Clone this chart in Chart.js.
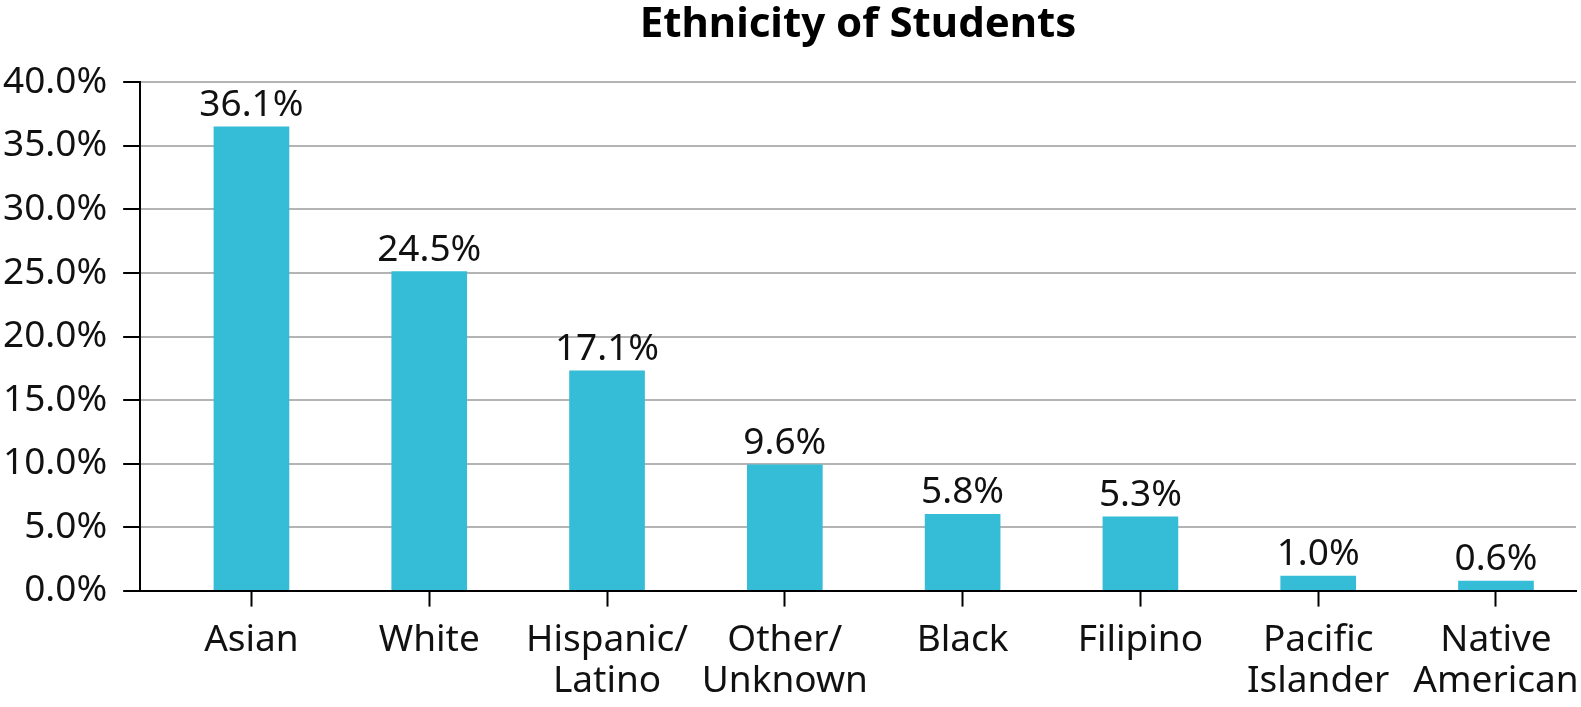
<!DOCTYPE html>
<html>
<head>
<meta charset="utf-8">
<script src="https://cdn.jsdelivr.net/npm/chart.js@4.4.0/dist/chart.umd.min.js"></script>
<style>
html,body{margin:0;padding:0;background:#fff;}
#wrap{width:1581px;height:707px;}
</style>
</head>
<body>
<div id="wrap"><canvas id="c" width="1581" height="707"></canvas></div>
<script>
const categories = [["Asian"], ["White"], ["Hispanic/", "Latino"], ["Other/", "Unknown"], ["Black"], ["Filipino"], ["Pacific", "Islander"], ["Native", "American"]];
// bar heights as drawn in the picture (percent)
const barValues = [36.5, 25.1, 17.3, 9.9, 6.0, 5.8, 1.15, 0.75];
// value labels printed above the bars
const valueLabels = ["36.1%", "24.5%", "17.1%", "9.6%", "5.8%", "5.3%", "1.0%", "0.6%"];
const yTicks = [0, 5, 10, 15, 20, 25, 30, 35, 40];

const FONT = "'Noto Sans', 'Open Sans', sans-serif";

const labelPlugin = {
  id: 'valueLabels',
  afterDatasetsDraw(chart) {
    const ctx = chart.ctx;
    const meta = chart.getDatasetMeta(0);
    ctx.save();
    ctx.font = "37px " + FONT;
    ctx.fillStyle = "#111";
    ctx.textAlign = "center";
    ctx.textBaseline = "alphabetic";
    meta.data.forEach((bar, i) => {
      ctx.fillText(valueLabels[i], bar.x, bar.y - 11);
    });
    ctx.restore();
  }
};

new Chart(document.getElementById('c'), {
  type: 'bar',
  data: {
    datasets: [{
      data: barValues.map((v, i) => ({x: i, y: v})),
      backgroundColor: '#35BCD7',
      borderWidth: 0,
      barThickness: 75
    }]
  },
  options: {
    responsive: false,
    animation: false,
    devicePixelRatio: 1,
    layout: { padding: { left: -13, right: 5, top: 0, bottom: -9 } },
    plugins: {
      legend: { display: false },
      tooltip: { enabled: false },
      title: {
        display: true,
        text: 'Ethnicity of Students',
        fullSize: false,
        color: '#000',
        font: { family: FONT, size: 42, weight: 'bold' },
        padding: { top: 0, bottom: 32 }
      }
    },
    scales: {
      x: {
        type: 'linear',
        offset: false,
        min: -0.626,
        max: 7.45,
        afterBuildTicks(axis) {
          axis.ticks = categories.map((c, i) => ({ value: i }));
        },
        afterFit(axis) {
          axis.paddingLeft = 0;
          axis.paddingRight = 0;
        },
        ticks: {
          autoSkip: false,
          maxRotation: 0,
          color: '#111',
          padding: 14,
          font: { family: FONT, size: 37, lineHeight: 1.1 },
          callback: (v) => categories[v]
        },
        grid: {
          offset: false,
          drawOnChartArea: false,
          drawTicks: true,
          tickLength: 16,
          tickColor: '#000',
          tickWidth: 2
        },
        border: { color: '#000', width: 2 }
      },
      y: {
        min: 0,
        max: 40,
        afterBuildTicks(axis) {
          axis.ticks = yTicks.map(v => ({ value: v }));
        },
        ticks: {
          color: '#111',
          padding: 16,
          font: { family: FONT, size: 37 },
          callback: (v) => v.toFixed(1) + '%'
        },
        grid: {
          color: '#b4b4b4',
          lineWidth: 2,
          tickColor: '#000',
          tickWidth: 2,
          tickLength: 17,
          drawTicks: true
        },
        border: { color: '#000', width: 2 }
      }
    }
  },
  plugins: [labelPlugin]
});
</script>
</body>
</html>
